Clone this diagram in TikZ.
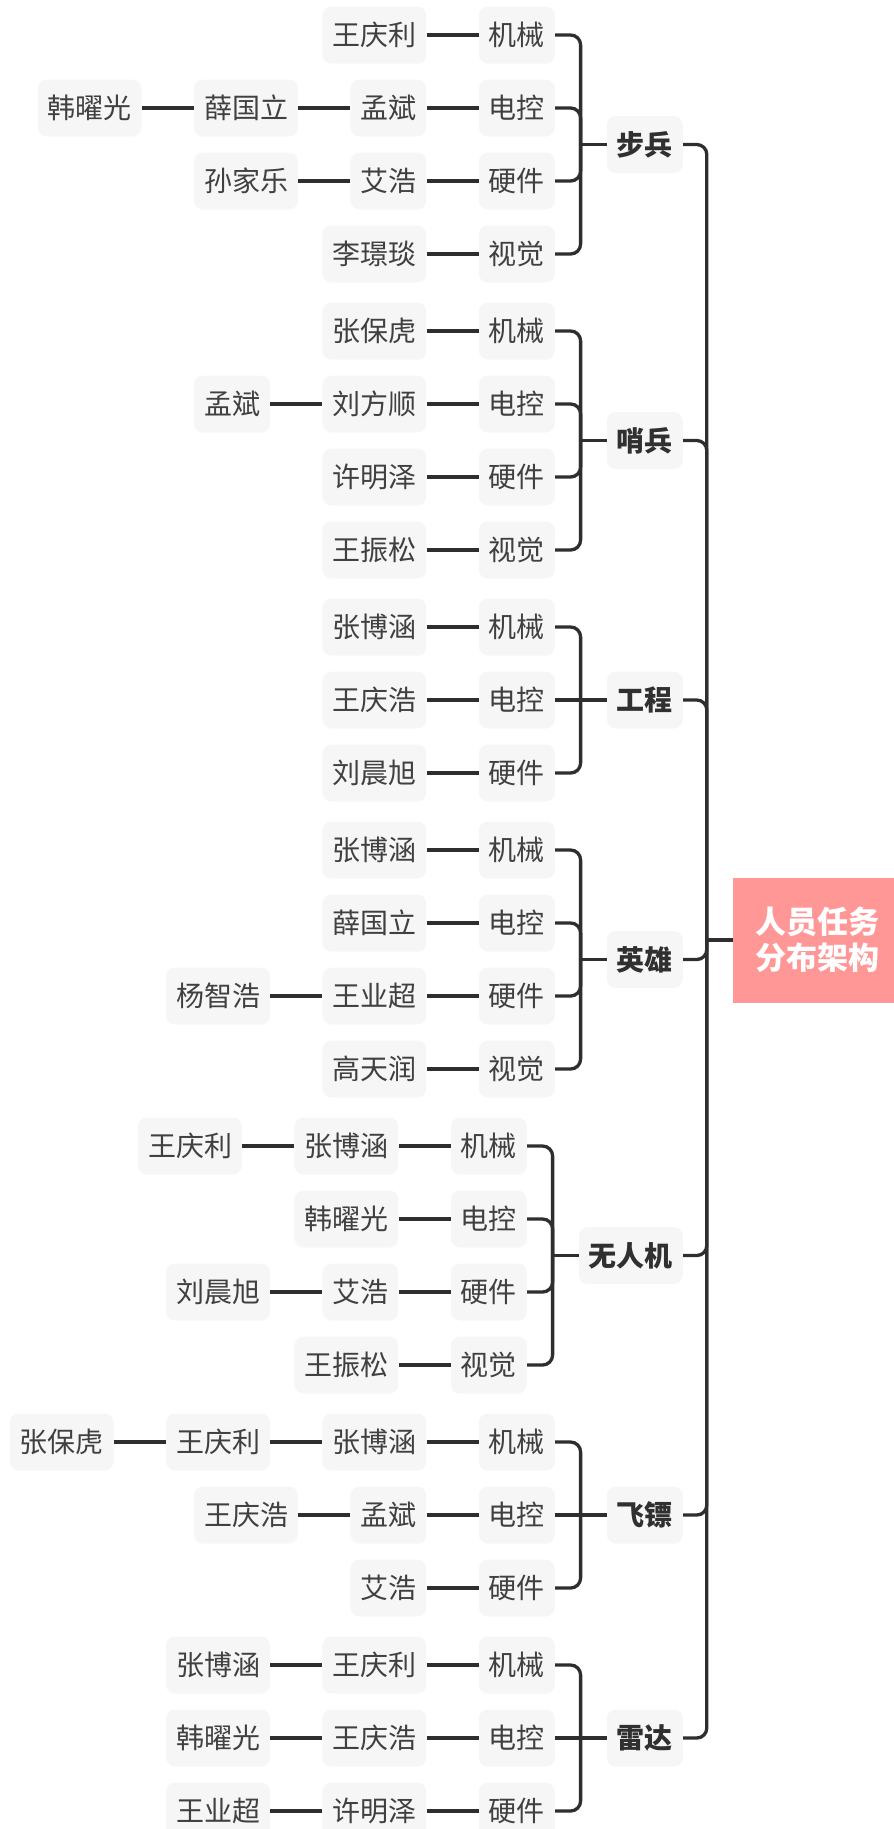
\documentclass[tikz,border=0pt]{standalone}
\usepackage{fontspec}
\setmainfont{Noto Sans CJK SC}
\usetikzlibrary{positioning,calc}
\definecolor{boxgray}{HTML}{F6F6F6}
\definecolor{txt}{HTML}{404040}
\definecolor{txtdark}{HTML}{303030}
\definecolor{linec}{HTML}{2E2E2E}
\definecolor{rootpink}{HTML}{FF9797}
\tikzset{
  box/.style={fill=boxgray, rounded corners=9pt, text=txt, font=\fontsize{28}{30}\selectfont,
    inner xsep=10pt, inner ysep=0pt, minimum height=57pt, anchor=east},
  cat/.style={box, text=txtdark, font=\fontsize{28}{30}\selectfont\bfseries},
  rootbox/.style={fill=rootpink, text=white, font=\fontsize{31}{36}\selectfont\bfseries,
    align=center, minimum width=168pt, minimum height=125pt, inner sep=0pt},
  conn/.style={draw=linec, line width=3.3pt, rounded corners=10pt},
}
\newcommand\mylink[2]{\draw[conn] (#1.east) -| ($(#2.west)+(-26pt,0)$);}
\newcommand\mystraight[2]{\draw[conn] (#1.east) -- (#2.west);}
\newcommand\mystub[1]{\draw[conn] (#1.west) -- ++(-27.6pt,0);}
\begin{document}
\begin{tikzpicture}[x=1pt,y=-1pt]
\useasboundingbox (0,0) rectangle (894,1829);
% root
\node[rootbox] (R) at (817,940) {人员任务\\分布架构};
% ---------- 步兵
\node[cat] (A) at (683,144.5) {步兵};
\node[box] (A1) at (555,35) {机械};
\node[box] (A2) at (555,108) {电控};
\node[box] (A3) at (555,181) {硬件};
\node[box] (A4) at (555,254) {视觉};
\node[box,left=52pt of A1] (A1a) {王庆利};
\node[box,left=52pt of A2] (A2a) {孟斌};
\node[box,left=52pt of A2a] (A2b) {薛国立};
\node[box,left=52pt of A2b] (A2c) {韩曜光};
\node[box,left=52pt of A3] (A3a) {艾浩};
\node[box,left=52pt of A3a] (A3b) {孙家乐};
\node[box,left=52pt of A4] (A4a) {李璟琰};
% ---------- 哨兵
\node[cat] (B) at (683,440.5) {哨兵};
\node[box] (B1) at (555,331) {机械};
\node[box] (B2) at (555,404) {电控};
\node[box] (B3) at (555,477) {硬件};
\node[box] (B4) at (555,550) {视觉};
\node[box,left=52pt of B1] (B1a) {张保虎};
\node[box,left=52pt of B2] (B2a) {刘方顺};
\node[box,left=52pt of B2a] (B2b) {孟斌};
\node[box,left=52pt of B3] (B3a) {许明泽};
\node[box,left=52pt of B4] (B4a) {王振松};
% ---------- 工程
\node[cat] (C) at (683,700) {工程};
\node[box] (C1) at (555,627) {机械};
\node[box] (C2) at (555,700) {电控};
\node[box] (C3) at (555,773) {硬件};
\node[box,left=52pt of C1] (C1a) {张博涵};
\node[box,left=52pt of C2] (C2a) {王庆浩};
\node[box,left=52pt of C3] (C3a) {刘晨旭};
% ---------- 英雄
\node[cat] (D) at (683,959.5) {英雄};
\node[box] (D1) at (555,850) {机械};
\node[box] (D2) at (555,923) {电控};
\node[box] (D3) at (555,996) {硬件};
\node[box] (D4) at (555,1069) {视觉};
\node[box,left=52pt of D1] (D1a) {张博涵};
\node[box,left=52pt of D2] (D2a) {薛国立};
\node[box,left=52pt of D3] (D3a) {王业超};
\node[box,left=52pt of D3a] (D3b) {杨智浩};
\node[box,left=52pt of D4] (D4a) {高天润};
% ---------- 无人机
\node[cat] (E) at (683,1255.5) {无人机};
\node[box] (E1) at (527,1146) {机械};
\node[box] (E2) at (527,1219) {电控};
\node[box] (E3) at (527,1292) {硬件};
\node[box] (E4) at (527,1365) {视觉};
\node[box,left=52pt of E1] (E1a) {张博涵};
\node[box,left=52pt of E1a] (E1b) {王庆利};
\node[box,left=52pt of E2] (E2a) {韩曜光};
\node[box,left=52pt of E3] (E3a) {艾浩};
\node[box,left=52pt of E3a] (E3b) {刘晨旭};
\node[box,left=52pt of E4] (E4a) {王振松};
% ---------- 飞镖
\node[cat] (F) at (683,1515) {飞镖};
\node[box] (F1) at (555,1442) {机械};
\node[box] (F2) at (555,1515) {电控};
\node[box] (F3) at (555,1588) {硬件};
\node[box,left=52pt of F1] (F1a) {张博涵};
\node[box,left=52pt of F1a] (F1b) {王庆利};
\node[box,left=52pt of F1b] (F1c) {张保虎};
\node[box,left=52pt of F2] (F2a) {孟斌};
\node[box,left=52pt of F2a] (F2b) {王庆浩};
\node[box,left=52pt of F3] (F3a) {艾浩};
% ---------- 雷达
\node[cat] (G) at (683,1738) {雷达};
\node[box] (G1) at (555,1665) {机械};
\node[box] (G2) at (555,1738) {电控};
\node[box] (G3) at (555,1811) {硬件};
\node[box,left=52pt of G1] (G1a) {王庆利};
\node[box,left=52pt of G1a] (G1b) {张博涵};
\node[box,left=52pt of G2] (G2a) {王庆浩};
\node[box,left=52pt of G2a] (G2b) {韩曜光};
\node[box,left=52pt of G3] (G3a) {许明泽};
\node[box,left=52pt of G3a] (G3b) {王业超};
% ---------- connectors: root trunk
\mystub{R}
\mylink{A}{R}\mylink{B}{R}\mylink{C}{R}\mylink{D}{R}\mylink{E}{R}\mylink{F}{R}\mylink{G}{R}
% category brackets
\mystub{A}\mylink{A1}{A}\mylink{A2}{A}\mylink{A3}{A}\mylink{A4}{A}
\mystub{B}\mylink{B1}{B}\mylink{B2}{B}\mylink{B3}{B}\mylink{B4}{B}
\mystub{C}\mylink{C1}{C}\mystraight{C2}{C}\mylink{C3}{C}
\mystub{D}\mylink{D1}{D}\mylink{D2}{D}\mylink{D3}{D}\mylink{D4}{D}
\mystub{E}\mylink{E1}{E}\mylink{E2}{E}\mylink{E3}{E}\mylink{E4}{E}
\mystub{F}\mylink{F1}{F}\mystraight{F2}{F}\mylink{F3}{F}
\mystub{G}\mylink{G1}{G}\mystraight{G2}{G}\mylink{G3}{G}
% name chains
\mystraight{A1a}{A1}\mystraight{A2a}{A2}\mystraight{A2b}{A2a}\mystraight{A2c}{A2b}
\mystraight{A3a}{A3}\mystraight{A3b}{A3a}\mystraight{A4a}{A4}
\mystraight{B1a}{B1}\mystraight{B2a}{B2}\mystraight{B2b}{B2a}\mystraight{B3a}{B3}\mystraight{B4a}{B4}
\mystraight{C1a}{C1}\mystraight{C2a}{C2}\mystraight{C3a}{C3}
\mystraight{D1a}{D1}\mystraight{D2a}{D2}\mystraight{D3a}{D3}\mystraight{D3b}{D3a}\mystraight{D4a}{D4}
\mystraight{E1a}{E1}\mystraight{E1b}{E1a}\mystraight{E2a}{E2}\mystraight{E3a}{E3}\mystraight{E3b}{E3a}\mystraight{E4a}{E4}
\mystraight{F1a}{F1}\mystraight{F1b}{F1a}\mystraight{F1c}{F1b}\mystraight{F2a}{F2}\mystraight{F2b}{F2a}\mystraight{F3a}{F3}
\mystraight{G1a}{G1}\mystraight{G1b}{G1a}\mystraight{G2a}{G2}\mystraight{G2b}{G2a}\mystraight{G3a}{G3}\mystraight{G3b}{G3a}
\end{tikzpicture}
\end{document}
